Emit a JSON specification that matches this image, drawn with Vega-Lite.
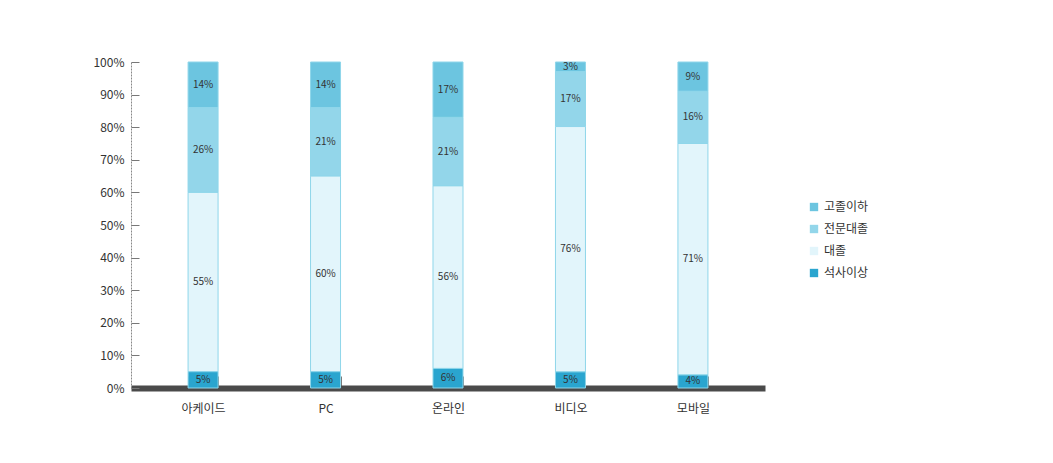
{
  "$schema": "https://vega.github.io/schema/vega-lite/v6.json",
  "width": 634,
  "height": 326,
  "autosize": "none",
  "padding": {"left": 131, "top": 62, "right": 288, "bottom": 75},
  "background": "white",
  "config": {"view": {"stroke": null}, "font": "Noto Sans CJK KR"},
  "data": {
    "values": [
      {"platform": "아케이드", "edu": "고졸이하", "level": 1, "share": 0.14},
      {"platform": "아케이드", "edu": "전문대졸", "level": 2, "share": 0.26},
      {"platform": "아케이드", "edu": "대졸", "level": 3, "share": 0.55},
      {"platform": "아케이드", "edu": "석사이상", "level": 4, "share": 0.05},
      {"platform": "PC", "edu": "고졸이하", "level": 1, "share": 0.14},
      {"platform": "PC", "edu": "전문대졸", "level": 2, "share": 0.21},
      {"platform": "PC", "edu": "대졸", "level": 3, "share": 0.60},
      {"platform": "PC", "edu": "석사이상", "level": 4, "share": 0.05},
      {"platform": "온라인", "edu": "고졸이하", "level": 1, "share": 0.17},
      {"platform": "온라인", "edu": "전문대졸", "level": 2, "share": 0.21},
      {"platform": "온라인", "edu": "대졸", "level": 3, "share": 0.56},
      {"platform": "온라인", "edu": "석사이상", "level": 4, "share": 0.06},
      {"platform": "비디오", "edu": "고졸이하", "level": 1, "share": 0.03},
      {"platform": "비디오", "edu": "전문대졸", "level": 2, "share": 0.17},
      {"platform": "비디오", "edu": "대졸", "level": 3, "share": 0.76},
      {"platform": "비디오", "edu": "석사이상", "level": 4, "share": 0.05},
      {"platform": "모바일", "edu": "고졸이하", "level": 1, "share": 0.09},
      {"platform": "모바일", "edu": "전문대졸", "level": 2, "share": 0.16},
      {"platform": "모바일", "edu": "대졸", "level": 3, "share": 0.71},
      {"platform": "모바일", "edu": "석사이상", "level": 4, "share": 0.04}
    ]
  },
  "encoding": {
    "x": {
      "field": "platform",
      "type": "nominal",
      "sort": ["아케이드", "PC", "온라인", "비디오", "모바일"],
      "scale": {"paddingInner": 0.755, "paddingOuter": 0.466},
      "axis": {
        "title": null,
        "labelAngle": 0,
        "labelFontSize": 12,
        "labelColor": "#333",
        "labelPadding": 27,
        "domainColor": "#4a4a4a",
        "domainWidth": 6,
        "tickBand": "extent",
        "tickSize": -12,
        "tickColor": "#777"
      }
    },
    "y": {
      "field": "share",
      "type": "quantitative",
      "stack": "normalize",
      "scale": {"domain": [0, 1]},
      "axis": {
        "title": null,
        "values": [0, 0.1, 0.2, 0.3, 0.4, 0.5, 0.6, 0.7, 0.8, 0.9, 1],
        "format": ".0%",
        "labelFontSize": 12,
        "labelColor": "#333",
        "labelPadding": 15,
        "tickSize": -8,
        "tickColor": "#777",
        "domainColor": "#888",
        "domainDash": [2, 1],
        "grid": false
      }
    },
    "order": {"field": "level", "type": "quantitative", "sort": "descending"}
  },
  "layer": [
    {
      "mark": {"type": "bar", "stroke": "#8fd6ea", "strokeWidth": 1},
      "encoding": {
        "color": {
          "field": "edu",
          "type": "nominal",
          "scale": {
            "domain": ["고졸이하", "전문대졸", "대졸", "석사이상"],
            "range": ["#6cc5e0", "#93d6ea", "#e2f5fb", "#2aa5cf"]
          },
          "legend": {
            "title": null,
            "orient": "none",
            "legendX": 677,
            "legendY": 139,
            "symbolType": "square",
            "symbolSize": 70,
            "symbolStrokeWidth": 0,
            "labelFontSize": 12,
            "labelColor": "#333",
            "rowPadding": 10
          }
        }
      }
    },
    {
      "mark": {"type": "text", "fontSize": 10, "color": "#333"},
      "encoding": {
        "y": {"field": "share", "type": "quantitative", "stack": "normalize", "bandPosition": 0.5},
        "text": {"field": "share", "type": "quantitative", "format": ".0%"}
      }
    }
  ]
}
